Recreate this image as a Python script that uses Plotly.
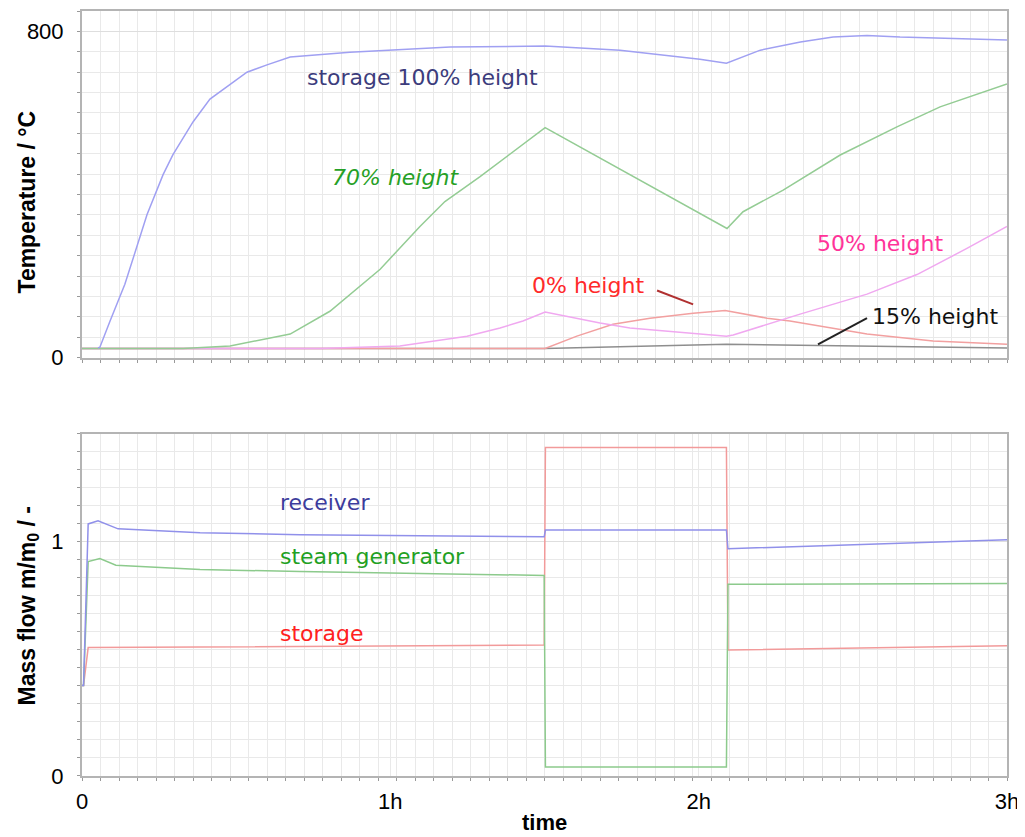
import plotly.graph_objects as go

# ---------------- data: temperatures (top) ----------------
t_s100 = [0.052, 0.058, 0.091, 0.139, 0.211, 0.263, 0.295, 0.36, 0.415, 0.48, 0.535, 0.6, 0.675,
          0.869, 1.194, 1.502, 1.745, 2.004, 2.09, 2.2, 2.33, 2.436, 2.546, 2.653, 2.87, 3.0]
T_s100 = [24, 26, 90, 180, 351, 449, 498, 578, 634, 669, 700, 718, 737,
          749, 762, 764, 754, 732, 722, 754, 774, 786, 790, 786, 781, 779]

t_h70 = [0.0, 0.328, 0.48, 0.675, 0.804, 0.967, 1.096, 1.177, 1.291, 1.502,
         2.092, 2.144, 2.274, 2.459, 2.643, 2.783, 3.0]
T_h70 = [23, 23, 29, 58, 114, 217, 322, 383, 444, 564,
         317, 358, 411, 497, 566, 615, 671]

t_h50 = [0.0, 0.772, 1.031, 1.249, 1.356, 1.43, 1.502, 1.68, 1.777, 2.09, 2.112,
         2.329, 2.546, 2.708, 2.87, 3.0]
T_h50 = [23, 23, 29, 53, 73, 90, 112, 85, 73, 53, 56,
         107, 156, 204, 268, 322]

t_h0 = [0.0, 1.502, 1.605, 1.722, 1.842, 1.982, 2.086, 2.222, 2.296, 2.546, 2.76, 3.0]
T_h0 = [23, 23, 53, 82, 97, 109, 116, 97, 90, 58, 41, 33]

t_h15 = [0.0, 1.5, 2.09, 3.0]
T_h15 = [23, 23, 33, 24]

# ---------------- data: mass flows (bottom) ----------------
t_recv = [0.0, 0.005, 0.02, 0.052, 0.117, 0.383, 0.707, 1.0, 1.499, 1.503, 2.09, 2.095, 2.3, 3.0]
m_recv = [0.386, 0.386, 1.076, 1.089, 1.055, 1.038, 1.03, 1.026, 1.021, 1.05, 1.05, 0.970, 0.979, 1.008]

t_steam = [0.0, 0.005, 0.02, 0.058, 0.11, 0.383, 0.707, 1.499, 1.503, 2.09, 2.095, 3.0]
m_steam = [0.386, 0.386, 0.915, 0.928, 0.90, 0.881, 0.873, 0.856, 0.038, 0.038, 0.818, 0.822]

t_stor = [0.0, 0.005, 0.02, 1.499, 1.503, 2.09, 2.095, 3.0]
m_stor = [0.386, 0.386, 0.548, 0.559, 1.402, 1.402, 0.538, 0.556]

x_tickvals = [0, 1, 2, 3]
x_ticktext = ["0", "1h", "2h", "3h"]

FONT_TICK = "Liberation Sans"
FONT_LBL = "DejaVu Sans"

fig = go.Figure()

def line(x, y, color, xa, ya, width=1.5):
    fig.add_trace(go.Scatter(x=x, y=y, mode="lines", line=dict(color=color, width=width),
                             xaxis=xa, yaxis=ya, showlegend=False, hoverinfo="skip"))

line(t_h15, T_h15, "#8e8e8e", "x", "y")
line(t_h0, T_h0, "#f2a0a0", "x", "y")
line(t_h50, T_h50, "#f0a8f0", "x", "y")
line(t_h70, T_h70, "#94cc94", "x", "y")
line(t_s100, T_s100, "#a0a0f2", "x", "y")

line(t_stor, m_stor, "#f29a9a", "x2", "y2")
line(t_steam, m_steam, "#8cca8c", "x2", "y2")
line(t_recv, m_recv, "#9090ea", "x2", "y2")

grid_major = "#dedede"
grid_minor = "#e9e9e9"
frame = "#b4b4b4"

xcommon = dict(range=[0, 3], tickvals=x_tickvals, ticktext=x_ticktext,
               showgrid=True, gridcolor=grid_minor, gridwidth=1, zeroline=False,
               showline=True, linecolor=frame, linewidth=2, mirror=True,
               ticks="", ticklen=0,
               minor=dict(dtick=0.06, tick0=0, showgrid=True, gridcolor=grid_minor,
                          ticks="outside", ticklen=3, tickcolor="#999999"),
               tickfont=dict(family=FONT_TICK, size=22, color="black"))

# the page has an 8px body margin; the figure is sized/offset to compensate
fig.update_layout(
    width=1017, height=829,
    margin=dict(l=74, r=18, t=1, b=61),
    paper_bgcolor="white", plot_bgcolor="white",
    xaxis=dict(domain=[0, 1], anchor="y", showticklabels=False, **xcommon),
    xaxis2=dict(domain=[0, 1], anchor="y2", showticklabels=True, ticklabelstandoff=5, **xcommon),
    yaxis=dict(domain=[0.5467, 1.0], anchor="x", range=[0, 850], tickvals=[0, 800],
               showgrid=True, gridcolor=grid_major, zeroline=False,
               showline=True, linecolor=frame, linewidth=2, mirror=True,
               ticks="", ticklen=0, ticklabelstandoff=12,
               minor=dict(dtick=50, tick0=0, showgrid=True, gridcolor=grid_minor,
                          ticks="outside", ticklen=3, tickcolor="#999999"),
               tickfont=dict(family=FONT_TICK, size=22, color="black")),
    yaxis2=dict(domain=[0, 0.4476], anchor="x2", range=[0, 19 / 13], tickvals=[0, 1],
                showgrid=True, gridcolor=grid_major, zeroline=False,
                showline=True, linecolor=frame, linewidth=2, mirror=True,
                ticks="", ticklen=0, ticklabelstandoff=12,
                minor=dict(dtick=1 / 13, tick0=0, showgrid=True, gridcolor=grid_minor,
                           ticks="outside", ticklen=3, tickcolor="#999999"),
                tickfont=dict(family=FONT_TICK, size=22, color="black")),
)

def label(text, x, y, color, xref="x", yref="y", italic=False, size=22):
    fig.add_annotation(text=("<i>%s</i>" % text) if italic else text, x=x, y=y,
                       xref=xref, yref=yref, xanchor="left", yanchor="middle",
                       showarrow=False, font=dict(family=FONT_LBL, size=size, color=color))

label("storage 100% height", 0.723, 686, "#3c3c7c")
label("70% height", 0.804, 441, "#26a026", italic=True)
label("50% height", 2.377, 280, "#ff3399")
label("0% height", 1.453, 177, "#ff2a2a")
label("15% height", 2.556, 102, "#111111")

label("receiver", 0.636, 1.169, "#3c3c9c", xref="x2", yref="y2")
label("steam generator", 0.636, 0.936, "#22a022", xref="x2", yref="y2")
label("storage", 0.636, 0.610, "#ff2020", xref="x2", yref="y2")

# leader lines
fig.add_shape(type="line", xref="x", yref="y", x0=1.865, y0=165, x1=1.982, y1=131,
              line=dict(color="#b03030", width=2))
fig.add_shape(type="line", xref="x", yref="y", x0=2.387, y0=33, x1=2.546, y1=97,
              line=dict(color="#222222", width=2))

# axis titles
fig.add_annotation(text="<b>Temperature / °C</b>", x=-0.0584, y=0.751, xref="paper", yref="paper",
                   textangle=-90, showarrow=False, xanchor="center", yanchor="middle",
                   font=dict(family=FONT_TICK, size=23, color="black"))
fig.add_annotation(text="<b>Mass flow m/m<sub>0</sub> / -</b>", x=-0.0584, y=0.223,
                   xref="paper", yref="paper", textangle=-90, showarrow=False,
                   xanchor="center", yanchor="middle",
                   font=dict(family=FONT_TICK, size=23, color="black"))
fig.add_annotation(text="<b>time</b>", x=0.5, y=-0.061, xref="paper", yref="paper",
                   showarrow=False, xanchor="center", yanchor="middle",
                   font=dict(family=FONT_TICK, size=22, color="black"))

fig.write_html("out.html")
